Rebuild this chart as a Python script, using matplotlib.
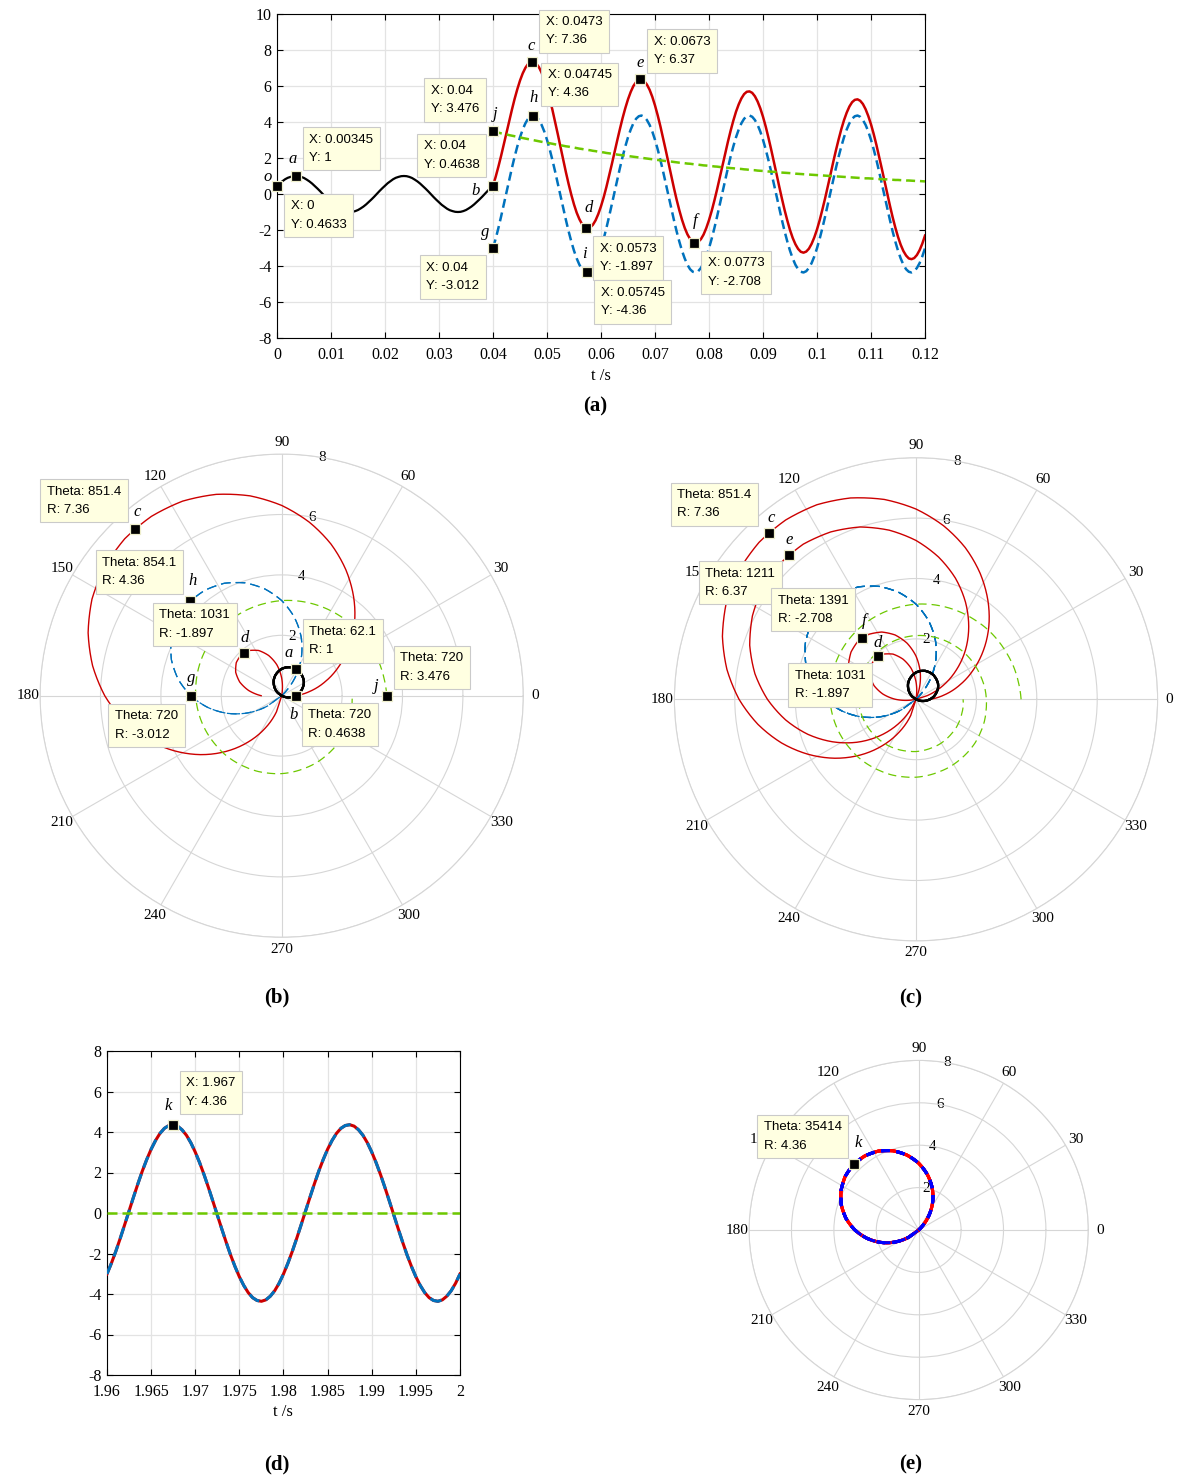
import numpy as np
import matplotlib.pyplot as plt
from matplotlib.ticker import FormatStrFormatter

plt.rcParams['font.family'] = ['Liberation Serif', 'DejaVu Serif']
plt.rcParams['lines.scale_dashes'] = False
plt.rcParams['axes.unicode_minus'] = False

# ---- data, sampled every 0.5 ms ----
t_pre = np.linspace(0, 0.04, 81)        # before the switching instant
t_post = np.linspace(0.04, 0.12, 161)   # after it
t_ss = np.linspace(1.96, 2.0, 81)       # steady state window

black_y = [0.46, 0.6, 0.71, 0.82, 0.9, 0.95, 0.99, 1, 0.99, 0.95, 0.89, 0.8, 0.7, 0.58, 0.44, 0.3, 0.15, -0.01, -0.17, -0.32,
           -0.46, -0.6, -0.71, -0.82, -0.9, -0.95, -0.99, -1, -0.99, -0.95, -0.89, -0.8, -0.7, -0.58, -0.44, -0.3, -0.15, 0.01, 0.17, 0.32,
           0.46, 0.6, 0.71, 0.82, 0.9, 0.95, 0.99, 1, 0.99, 0.95, 0.89, 0.8, 0.7, 0.58, 0.44, 0.3, 0.15, -0.01, -0.17, -0.32,
           -0.46, -0.6, -0.71, -0.82, -0.9, -0.95, -0.99, -1, -0.99, -0.95, -0.89, -0.8, -0.7, -0.58, -0.44, -0.3, -0.15, 0.01, 0.17, 0.32,
           0.46]

blue_y = [-3.01, -2.48, -1.89, -1.25, -0.58, 0.1, 0.78, 1.44, 2.07, 2.64, 3.15, 3.58, 3.93, 4.18, 4.32, 4.36, 4.29, 4.11, 3.84, 3.47,
          3.01, 2.48, 1.89, 1.25, 0.58, -0.1, -0.78, -1.44, -2.07, -2.64, -3.15, -3.58, -3.93, -4.18, -4.32, -4.36, -4.29, -4.11, -3.84, -3.47,
          -3.01, -2.48, -1.89, -1.25, -0.58, 0.1, 0.78, 1.44, 2.07, 2.64, 3.15, 3.58, 3.93, 4.18, 4.32, 4.36, 4.29, 4.11, 3.84, 3.47,
          3.01, 2.48, 1.89, 1.25, 0.58, -0.1, -0.78, -1.44, -2.07, -2.64, -3.15, -3.58, -3.93, -4.18, -4.32, -4.36, -4.29, -4.11, -3.84, -3.47,
          -3.01, -2.48, -1.89, -1.25, -0.58, 0.1, 0.78, 1.44, 2.07, 2.64, 3.15, 3.58, 3.93, 4.18, 4.32, 4.36, 4.29, 4.11, 3.84, 3.47,
          3.01, 2.48, 1.89, 1.25, 0.58, -0.1, -0.78, -1.44, -2.07, -2.64, -3.15, -3.58, -3.93, -4.18, -4.32, -4.36, -4.29, -4.11, -3.84, -3.47,
          -3.01, -2.48, -1.89, -1.25, -0.58, 0.1, 0.78, 1.44, 2.07, 2.64, 3.15, 3.58, 3.93, 4.18, 4.32, 4.36, 4.29, 4.11, 3.84, 3.47,
          3.01, 2.48, 1.89, 1.25, 0.58, -0.1, -0.78, -1.44, -2.07, -2.64, -3.15, -3.58, -3.93, -4.18, -4.32, -4.36, -4.29, -4.11, -3.84, -3.47,
          -3.01]

green_y = [3.48, 3.44, 3.41, 3.37, 3.34, 3.31, 3.27, 3.24, 3.21, 3.18,
           3.15, 3.11, 3.08, 3.05, 3.02, 2.99, 2.96, 2.93, 2.9, 2.87,
           2.85, 2.82, 2.79, 2.76, 2.73, 2.71, 2.68, 2.65, 2.63, 2.6,
           2.58, 2.55, 2.52, 2.5, 2.47, 2.45, 2.43, 2.4, 2.38, 2.35,
           2.33, 2.31, 2.28, 2.26, 2.24, 2.22, 2.19, 2.17, 2.15, 2.13,
           2.11, 2.09, 2.07, 2.05, 2.03, 2.01, 1.99, 1.97, 1.95, 1.93,
           1.91, 1.89, 1.87, 1.85, 1.83, 1.81, 1.8, 1.78, 1.76, 1.74,
           1.73, 1.71, 1.69, 1.68, 1.66, 1.64, 1.63, 1.61, 1.59, 1.58,
           1.56, 1.55, 1.53, 1.52, 1.5, 1.49, 1.47, 1.46, 1.44, 1.43,
           1.41, 1.4, 1.39, 1.37, 1.36, 1.34, 1.33, 1.32, 1.3, 1.29,
           1.28, 1.27, 1.25, 1.24, 1.23, 1.22, 1.2, 1.19, 1.18, 1.17,
           1.16, 1.15, 1.13, 1.12, 1.11, 1.1, 1.09, 1.08, 1.07, 1.06,
           1.05, 1.04, 1.03, 1.02, 1.01, 1.0, 0.99, 0.98, 0.97, 0.96,
           0.95, 0.94, 0.93, 0.92, 0.91, 0.9, 0.89, 0.88, 0.87, 0.87,
           0.86, 0.85, 0.84, 0.83, 0.82, 0.82, 0.81, 0.8, 0.79, 0.78,
           0.78, 0.77, 0.76, 0.75, 0.75, 0.74, 0.73, 0.72, 0.72, 0.71,
           0.7]

red_y = [0.46, 0.96, 1.52, 2.12, 2.76, 3.41, 4.05, 4.68, 5.28, 5.82,
         6.3, 6.7, 7.01, 7.23, 7.34, 7.35, 7.25, 7.05, 6.74, 6.34,
         5.86, 5.3, 4.68, 4.01, 3.32, 2.61, 1.9, 1.21, 0.56, -0.04,
         -0.58, -1.04, -1.4, -1.68, -1.85, -1.91, -1.86, -1.71, -1.46, -1.11,
         -0.68, -0.18, 0.39, 1.01, 1.65, 2.32, 2.97, 3.61, 4.22, 4.77,
         5.26, 5.67, 6, 6.22, 6.35, 6.36, 6.28, 6.08, 5.79, 5.4,
         4.92, 4.37, 3.76, 3.1, 2.42, 1.72, 1.02, 0.34, -0.31, -0.9,
         -1.43, -1.88, -2.24, -2.5, -2.66, -2.72, -2.66, -2.51, -2.25, -1.89,
         -1.45, -0.94, -0.36, 0.26, 0.92, 1.58, 2.25, 2.9, 3.51, 4.07,
         4.57, 4.98, 5.31, 5.55, 5.68, 5.7, 5.62, 5.43, 5.14, 4.76,
         4.29, 3.75, 3.14, 2.49, 1.81, 1.12, 0.42, -0.25, -0.89, -1.47,
         -2, -2.44, -2.79, -3.05, -3.21, -3.26, -3.2, -3.04, -2.77, -2.41,
         -1.97, -1.45, -0.86, -0.24, 0.42, 1.09, 1.77, 2.42, 3.03, 3.6,
         4.1, 4.52, 4.86, 5.1, 5.23, 5.26, 5.18, 5, 4.71, 4.33,
         3.87, 3.33, 2.73, 2.08, 1.41, 0.72, 0.03, -0.64, -1.28, -1.86,
         -2.38, -2.82, -3.17, -3.42, -3.58, -3.62, -3.56, -3.39, -3.12, -2.76,
         -2.31]

# steady state (d)/(e): the ac part repeats, dc part has died out
ss_y = blue_y[:81]
t_ss_green = [1.96, 2.0]
ss_green = [0, 0]

# data tips of (a)
tip_name = ['o', 'a', 'b', 'j', 'g', 'c', 'h', 'd', 'i', 'e', 'f']
tip_t = [0, 0.00345, 0.04, 0.04, 0.04, 0.0473, 0.04745, 0.0573, 0.05745, 0.0673, 0.0773]
tip_y = [0.4633, 1, 0.4638, 3.476, -3.012, 7.36, 4.36, -1.897, -4.36, 6.37, -2.708]
k_t, k_y = 1.96745, 4.36

DEG_PER_S = 360 * 50   # 50 Hz

W, H = 1184, 1478
RED = '#CC0000'
BLUE = '#0072BD'
GREEN = '#6DC800'
GRID = '#D6D6D6'

fig = plt.figure(figsize=(W / 100, H / 100), dpi=100)


def px_axes(x0, y0, x1, y1, **kw):
    return fig.add_axes([x0 / W, 1 - y1 / H, (x1 - x0) / W, (y1 - y0) / H], **kw)


def style_cart(ax):
    ax.grid(True, color='#E3E3E3', lw=0.9)
    ax.set_axisbelow(True)
    ax.tick_params(direction='in', top=True, right=True, length=4.5, width=0.8,
                   labelsize=11.5)
    ax.tick_params(axis='x', pad=6.5)
    ax.tick_params(axis='y', pad=4)
    for sp in ax.spines.values():
        sp.set_linewidth(0.8)


def polar_axes(cx, cy, s):
    R = 8 * s
    ax = px_axes(cx - R, cy - R, cx + R, cy + R, projection='polar')
    ax.set_rlim(0, 8)
    angs = list(range(0, 360, 30))
    ax.set_thetagrids(angs, labels=[str(a) for a in angs], fontsize=11)
    ax.set_rgrids([2, 4, 6, 8], labels=[''] * 4)
    ax.grid(True, color=GRID, lw=0.8)
    ax.spines['polar'].set_color(GRID)
    ax.spines['polar'].set_linewidth(0.8)
    ax.tick_params(length=0)
    ax.tick_params(axis='x', pad=1.5)
    ax.patch.set_alpha(0)
    for r in (2, 4, 6, 8):
        ax.text(np.radians(80.3), r, str(r), ha='center', va='center', fontsize=11, zorder=1)
    return ax


def pol(t, r):
    # matlab-style polar point: negative radius goes to the opposite side
    th = np.radians(t * DEG_PER_S)
    return (th + np.pi, -r) if r < 0 else (th, r)


def polar_line(ax, t, r, **kw):
    th = np.radians(np.asarray(t, dtype=float) * DEG_PER_S)
    r = np.asarray(r, dtype=float)
    cut = np.flatnonzero(np.diff(r >= 0)) + 1
    runs = list(zip(np.split(th, cut), np.split(r, cut)))
    for i, (tt, rr) in enumerate(runs):
        if rr[0] < 0:
            tt = tt + np.pi
        rr = np.abs(rr)
        # consecutive runs meet at the pole
        if i > 0:
            tt, rr = np.r_[tt[0], tt], np.r_[0, rr]
        if i < len(runs) - 1:
            tt, rr = np.r_[tt, tt[-1]], np.r_[rr, 0]
        ln, = ax.plot(tt, rr, **kw)
        ln.get_path()._interpolation_steps = 10


def num(v):
    return '%d' % round(v) if abs(v) >= 1000 else '%.4g' % v


def tip(ax, x, y, name, text, place):
    (side, bx, by), (lx, ly) = place
    ax.plot([x], [y], 's', ms=6.8, mfc='k', mec='#EFEFCC', mew=0.9, zorder=8, clip_on=False)
    pad = 0.5 * 9.5 * 100 / 72
    ox = bx + pad if side == 'l' else bx - pad
    ax.annotate(text, (x, y), xytext=(ox, -(by + pad)), textcoords='offset pixels',
                ha='left' if side == 'l' else 'right', va='top', multialignment='left',
                fontsize=9.5, family=['Liberation Sans', 'DejaVu Sans'], linespacing=1.7,
                bbox=dict(boxstyle='square,pad=0.5', fc='#FFFFE1', ec='#CACACA', lw=0.8),
                zorder=9, annotation_clip=False)
    ax.annotate(name, (x, y), xytext=(lx, -ly), textcoords='offset pixels',
                ha='center', va='center', fontsize=12, style='italic', zorder=9,
                annotation_clip=False)


tips = dict(zip(tip_name, zip(tip_t, tip_y)))

# ---------------- (a) ----------------
axa = px_axes(277, 14, 925, 338)
axa.plot(t_pre, black_y, color='k', lw=1.6, zorder=3)
axa.plot(t_post, red_y, color=RED, lw=1.8, zorder=3)
axa.plot(t_post, blue_y, color=BLUE, lw=1.8, dashes=(6.5, 3.5), zorder=4)
axa.plot(t_post, green_y, color=GREEN, lw=1.8, dashes=(6.5, 3.5), zorder=4)
axa.set_xlim(0, 0.12)
axa.set_ylim(-8, 10)
axa.set_xticks(np.arange(0, 0.1201, 0.01))
axa.set_yticks(np.arange(-8, 11, 2))
axa.xaxis.set_major_formatter(FormatStrFormatter('%g'))
style_cart(axa)

a_place = {
    'o': (('l', 7, 8), (-9, -9)),
    'a': (('l', 7, -49), (-3, -17)),
    'b': (('r', -7, -52), (-17, 5)),
    'j': (('r', -7, -53), (2, -17)),
    'g': (('r', -7, 7), (-8, -16)),
    'c': (('l', 7, -52), (-1, -16)),
    'h': (('l', 8, -53), (0, -18)),
    'd': (('l', 7, 8), (2, -20)),
    'i': (('l', 7, 8), (-3, -18)),
    'e': (('l', 7, -50), (0, -16)),
    'f': (('l', 7, 8), (1, -22)),
}
for n in tip_name:
    t, v = tips[n]
    tip(axa, t, v, n, 'X: %s\nY: %s' % (num(t), num(v)), a_place[n])

# ---------------- (b) ----------------
axb = polar_axes(281.7, 695.7, 30.2)
nb = 41
polar_line(axb, t_post[:nb], red_y[:nb], color=RED, lw=1.0, zorder=2)
polar_line(axb, t_post[:nb], blue_y[:nb], color=BLUE, lw=0.9, dashes=(7, 3.6), zorder=2)
polar_line(axb, t_post[:nb], green_y[:nb], color=GREEN, lw=0.9, dashes=(6, 3.6), zorder=2)
polar_line(axb, t_pre, black_y, color='k', lw=1.6, zorder=3)

b_place = {
    'c': (('r', -7, -50), (2, -17)),
    'h': (('r', -7, -51), (3, -20)),
    'd': (('r', -7, -50), (1, -15)),
    'a': (('l', 7, -50), (-7, -16)),
    'b': (('l', 6, 7), (-2, 19)),
    'g': (('r', -6, 8), (0, -18)),
    'j': (('l', 7, -50), (-11, -10)),
}
for n, pl in b_place.items():
    t, v = tips[n]
    x, y = pol(t, v)
    tip(axb, x, y, n, 'Theta: %s\nR: %s' % (num(t * DEG_PER_S), num(v)), pl)

# ---------------- (c) ----------------
axc = polar_axes(916, 699.3, 30.2)
nc = 81
polar_line(axc, t_post[:nc], red_y[:nc], color=RED, lw=1.0, zorder=2)
polar_line(axc, t_post[:nc], blue_y[:nc], color=BLUE, lw=0.9, dashes=(7, 3.6), zorder=2)
polar_line(axc, t_post[:nc], green_y[:nc], color=GREEN, lw=0.9, dashes=(6, 3.6), zorder=2)
polar_line(axc, t_pre, black_y, color='k', lw=1.6, zorder=3)

c_place = {
    'c': (('r', -11, -50), (2, -15)),
    'e': (('r', -7, 6), (0, -15)),
    'f': (('r', -7, -50), (2, -17)),
    'd': (('r', -6, 7), (0, -13)),
}
for n, pl in c_place.items():
    t, v = tips[n]
    x, y = pol(t, v)
    tip(axc, x, y, n, 'Theta: %s\nR: %s' % (num(t * DEG_PER_S), num(v)), pl)

# ---------------- (d) ----------------
axd = px_axes(107, 1051, 460, 1375)
axd.plot(t_ss, ss_y, color=RED, lw=2.2, zorder=3)
axd.plot(t_ss, ss_y, color=BLUE, lw=2.2, dashes=(8.5, 5), zorder=4)
axd.plot(t_ss_green, ss_green, color=GREEN, lw=1.8, dashes=(7.2, 3.6), zorder=4)
axd.set_xlim(1.96, 2.0)
axd.set_ylim(-8, 8)
axd.set_xticks(np.arange(1.96, 2.0001, 0.005))
axd.set_yticks(np.arange(-8, 9, 2))
axd.xaxis.set_major_formatter(FormatStrFormatter('%g'))
style_cart(axd)
tip(axd, k_t, k_y, 'k', 'X: %s\nY: %s' % (num(k_t), num(k_y)), (('l', 7, -54), (-5, -19)))

# ---------------- (e) ----------------
axe = polar_axes(918.7, 1230, 21.2)
polar_line(axe, t_ss, ss_y, color='#FF0000', lw=2.2, zorder=2)
polar_line(axe, t_ss, ss_y, color='#0000FF', lw=2.2, dashes=(6, 5), zorder=3)
x, y = pol(k_t, k_y)
tip(axe, x, y, 'k', 'Theta: %s\nR: %s' % (num(k_t * DEG_PER_S), num(k_y)), (('r', -6, -49), (4, -21)))


def ftext(px, py, s, **kw):
    fig.text(px / W, 1 - py / H, s, ha='center', va='center', **kw)


ftext(601, 376, 't /s', fontsize=12)
ftext(283, 1412, 't /s', fontsize=12)
for px, py, s in [(595, 406, '(a)'), (277, 997, '(b)'), (911, 998, '(c)'),
                  (277, 1464, '(d)'), (911, 1464, '(e)')]:
    ftext(px, py, s, fontsize=15, fontweight='bold')

fig.savefig('out.png', dpi=100)
